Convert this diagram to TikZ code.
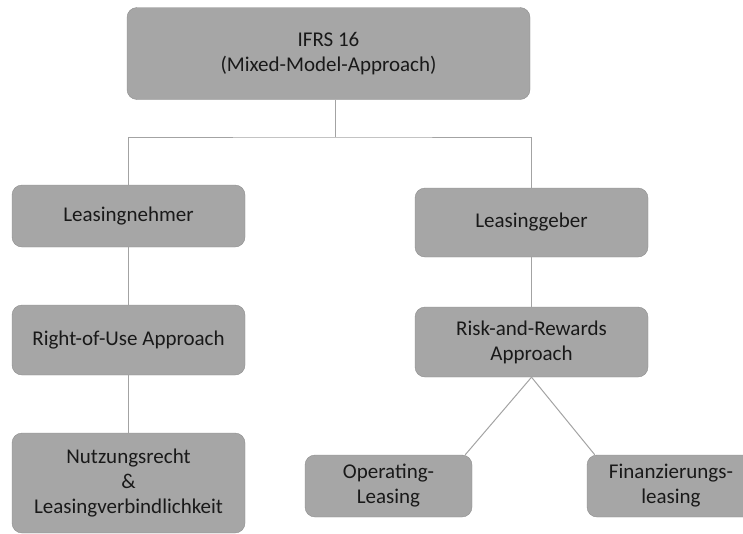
\documentclass[tikz,border=0pt]{standalone}
\usepackage{fontspec}
\setmainfont{Carlito}
\definecolor{boxfill}{HTML}{A6A6A6}
\definecolor{boxline}{HTML}{8E8E8E}
\definecolor{linkgray}{HTML}{A3A3A3}
\begin{document}
\begin{tikzpicture}[x=1pt,y=-1pt,
        box/.style={draw=boxline, fill=boxfill, rounded corners=10pt, inner sep=0pt,
            align=center, text=black!90, font=\fontsize{21}{25}\selectfont},
        link/.style={draw=linkgray, line width=1pt}]
        \useasboundingbox (0,0) rectangle (743,533);
        \clip (0,0) rectangle (743,533);
        % top
        \node[box, minimum width=403pt, minimum height=92pt] (root) at (328.5,53.5) {IFRS 16\\(Mixed-Model-Approach)};
        % left branch
        \node[box, minimum width=233pt, minimum height=62pt] (lessee) at (128.5,216) {Leasingnehmer};
        \node[box, minimum width=233pt, minimum height=70pt] (rou) at (128.5,340) {Right-of-Use Approach};
        \node[box, minimum width=233pt, minimum height=100pt] (rights) at (128.5,483) {Nutzungsrecht\\\&\\Leasingverbindlichkeit};
        % right branch
        \node[box, minimum width=233pt, minimum height=69pt] (lessor) at (531.5,222.5) {Leasinggeber};
        \node[box, minimum width=233pt, minimum height=70pt] (rra) at (531.5,342) {Risk-and-Rewards\\Approach};
        \node[box, minimum width=167pt, minimum height=62pt] (oplease) at (388.5,486) {Operating-\\Leasing};
        \node[box, minimum width=168pt, minimum height=62pt] (finlease) at (671,486) {Finanzierungs-\\leasing};
        % connectors
        \coordinate (split) at (335,137);
        \draw[link] (root.south -| split) -- (split);
        \draw[link] (lessee.north) |- (split) -| (lessor.north);
        \draw[link] (lessee.south) -- (rou.north);
        \draw[link] (rou.south) -- (rights.north);
        \draw[link] (lessor.south) -- (rra.north);
        \draw[link] (rra.south) -- ([xshift=-7pt]oplease.north east);
        \draw[link] (rra.south) -- ([xshift=8pt]finlease.north west);
    \end{tikzpicture}
\end{document}
